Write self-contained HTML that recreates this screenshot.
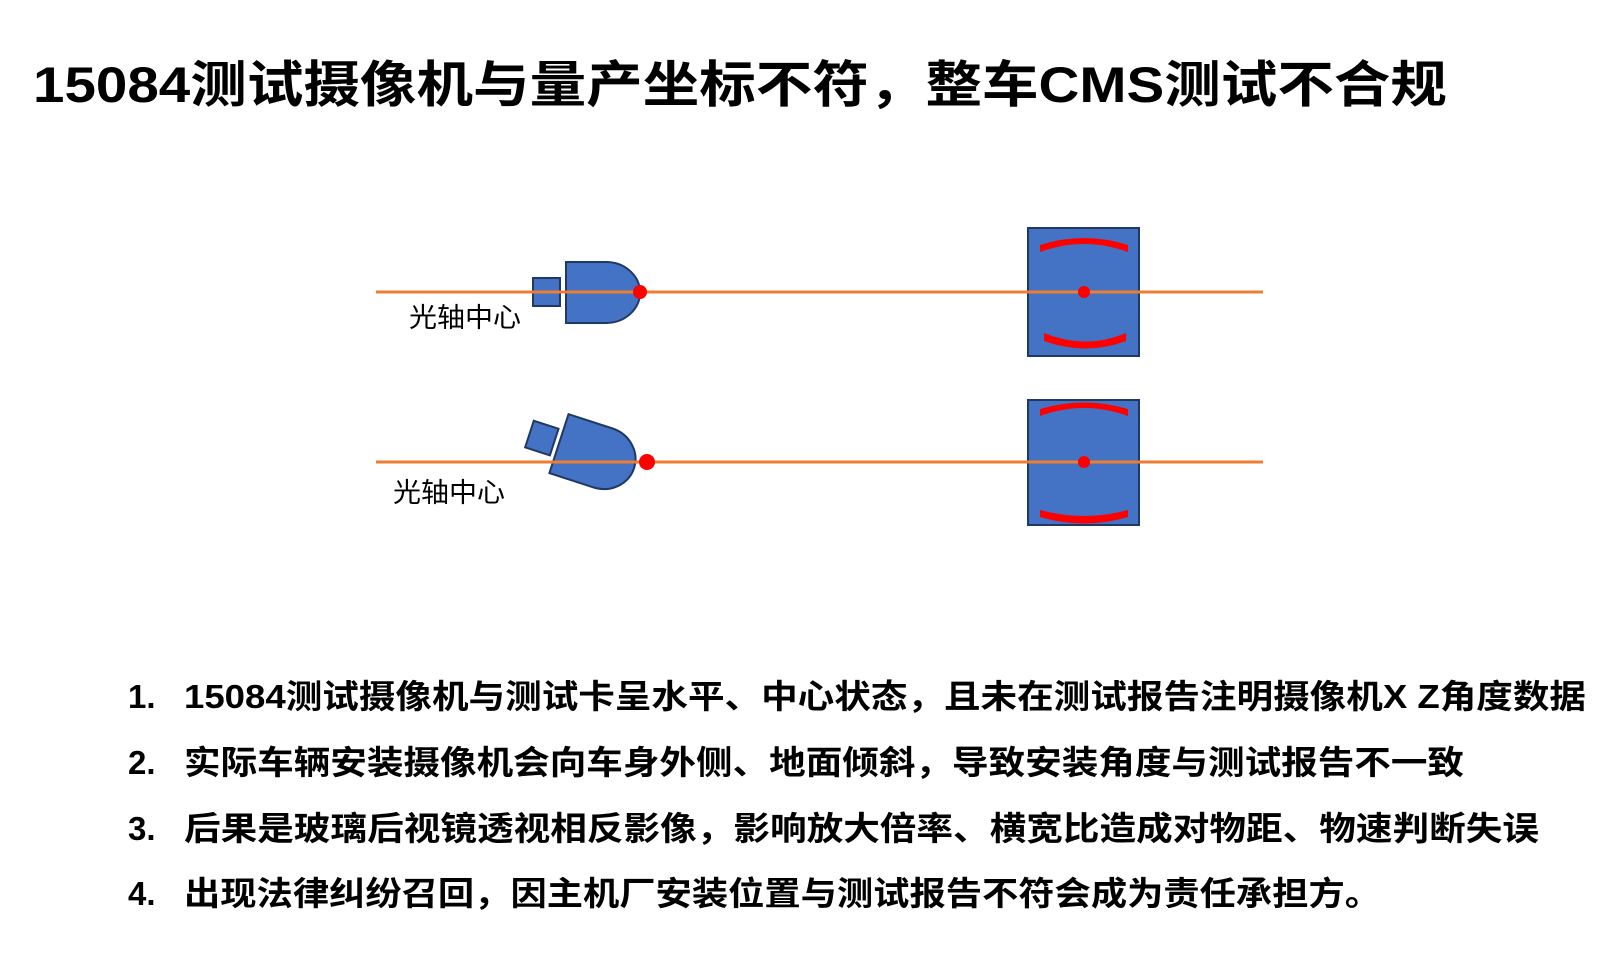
<!DOCTYPE html>
<html><head><meta charset="utf-8"><style>
html,body{margin:0;padding:0;background:#fff}
svg{display:block}
text{font-family:"Liberation Sans","Noto Sans CJK SC",sans-serif;fill:#000}
</style></head><body>
<svg width="1620" height="977" viewBox="0 0 1620 977" xmlns="http://www.w3.org/2000/svg">
<text x="33" y="102" font-size="50" font-weight="bold" textLength="1414" lengthAdjust="spacingAndGlyphs">15084测试摄像机与量产坐标不符，整车CMS测试不合规</text>

<!-- row 1 -->
<rect x="533" y="278" width="27" height="28" fill="#4472c4" stroke="#1f3864" stroke-width="2"/>
<path d="M566 262 H606 A34 30.5 0 0 1 606 323 H566 Z" fill="#4472c4" stroke="#1f3864" stroke-width="2"/>
<rect x="1028" y="228" width="111" height="128" fill="#4472c4" stroke="#1f3864" stroke-width="2"/>
<path d="M1040 252 Q1084 236 1128 252 L1128 245 Q1084 231 1040 245 Z" fill="#f00"/>
<path d="M1044 333 Q1086 350 1126 333 L1126 341 Q1086 356 1044 341 Z" fill="#f00"/>
<line x1="376" y1="292" x2="1263" y2="292" stroke="#ed7d31" stroke-width="3"/>
<circle cx="640" cy="292" r="7" fill="#f00"/>
<circle cx="1084" cy="292" r="6" fill="#f00"/>
<text x="409" y="327" font-size="27" textLength="112" lengthAdjust="spacingAndGlyphs">光轴中心</text>

<!-- row 2 -->
<g transform="translate(597,456) rotate(18)">
<rect x="-71" y="-14" width="26" height="28" fill="#4472c4" stroke="#1f3864" stroke-width="2"/>
<path d="M-40 -31 H6 A33 31 0 0 1 6 31 H-40 Z" fill="#4472c4" stroke="#1f3864" stroke-width="2"/>
</g>
<rect x="1028" y="400" width="111" height="125" fill="#4472c4" stroke="#1f3864" stroke-width="2"/>
<path d="M1040 416 Q1084 400 1128 416 L1128 409 Q1084 396 1040 409 Z" fill="#f00"/>
<path d="M1040 510 Q1084 522 1128 510 L1128 517 Q1084 530 1040 517 Z" fill="#f00"/>
<line x1="376" y1="462" x2="1263" y2="462" stroke="#ed7d31" stroke-width="3"/>
<circle cx="647" cy="462" r="8" fill="#f00"/>
<circle cx="1084" cy="462" r="6" fill="#f00"/>
<text x="393" y="502" font-size="27" textLength="112" lengthAdjust="spacingAndGlyphs">光轴中心</text>

<!-- list -->
<g font-size="33" font-weight="bold">
<text x="128" y="708">1.</text><text x="184" y="708" textLength="1402" lengthAdjust="spacingAndGlyphs">15084测试摄像机与测试卡呈水平、中心状态，且未在测试报告注明摄像机X Z角度数据</text>
<text x="128" y="774">2.</text><text x="184" y="774" textLength="1280" lengthAdjust="spacingAndGlyphs">实际车辆安装摄像机会向车身外侧、地面倾斜，导致安装角度与测试报告不一致</text>
<text x="128" y="840">3.</text><text x="184" y="840" textLength="1355" lengthAdjust="spacingAndGlyphs">后果是玻璃后视镜透视相反影像，影响放大倍率、横宽比造成对物距、物速判断失误</text>
<text x="128" y="905">4.</text><text x="184" y="905" textLength="1197" lengthAdjust="spacingAndGlyphs">出现法律纠纷召回，因主机厂安装位置与测试报告不符会成为责任承担方。</text>
</g>
</svg>
</body></html>
